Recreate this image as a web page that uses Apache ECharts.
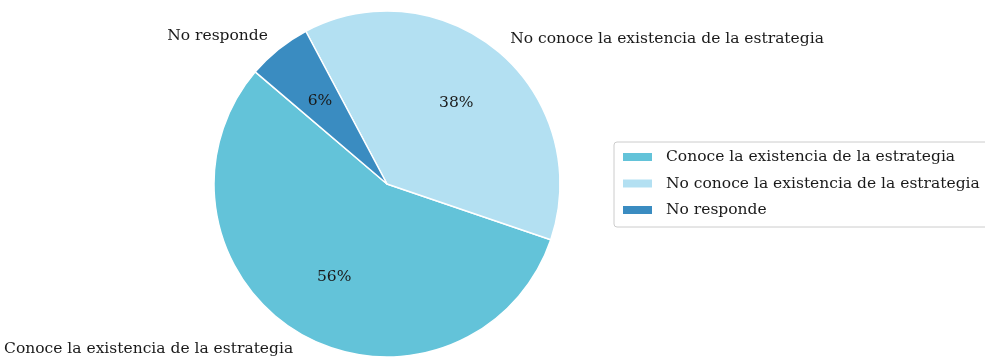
<!DOCTYPE html>
<html><head><meta charset="utf-8">
<script src="https://cdn.jsdelivr.net/npm/echarts@6/dist/echarts.min.js"></script>
<style>html,body{margin:0;padding:0;background:#fff}#c{width:985px;height:359px}</style>
</head><body><div id="c"></div>
<script>
const categories = ['Conoce la existencia de la estrategia', 'No conoce la existencia de la estrategia', 'No responde'];
const values = [56, 38, 6];
const colors = ['#63c3d9', '#b3e0f2', '#3a8cc1'];

const FONT = 'DejaVu Serif';
const chart = echarts.init(document.getElementById('c'));
const total = values.reduce((a, b) => a + b, 0);
const data = categories.map((n, i) => ({ name: n, value: values[i], itemStyle: { color: colors[i] } }));
chart.setOption({
  animation: false,
  textStyle: { fontFamily: FONT },
  legend: {
    orient: 'vertical', left: 614, top: 142,
    padding: [7, 40, 9, 7],
    borderColor: '#cccccc', borderWidth: 1, borderRadius: 3,
    itemWidth: 31, itemHeight: 10, itemGap: 10.5,
    icon: 'rect',
    textStyle: { fontFamily: FONT, fontSize: 15.5, color: '#1a1a1a', lineHeight: 16, padding: [0, 0, 0, 8] },
    data: categories
  },
  series: [
    {
      type: 'pie', center: [387, 184], radius: 173,
      clockwise: false, startAngle: 139.6,
      avoidLabelOverlap: false,
      itemStyle: { borderColor: '#fff', borderWidth: 1.5 },
      label: { show: true, position: 'outside', fontFamily: FONT, fontSize: 15.5, color: '#1a1a1a', distanceToLabelLine: 0 },
      labelLine: { show: false, length: 17, length2: 0 },
      emphasis: { disabled: true },
      data: data
    },
    {
      type: 'pie', center: [387, 184], radius: 208,
      clockwise: false, startAngle: 139.6,
      avoidLabelOverlap: false, silent: true,
      itemStyle: { color: 'rgba(0,0,0,0)', borderWidth: 0 },
      label: { show: true, position: 'inside', fontFamily: FONT, fontSize: 15.5, color: '#1a1a1a',
        formatter: p => Math.round(p.value / total * 100) + '%' },
      labelLine: { show: false },
      emphasis: { disabled: true },
      data: categories.map((n, i) => ({ name: n, value: values[i] }))
    }
  ]
});
</script></body></html>
